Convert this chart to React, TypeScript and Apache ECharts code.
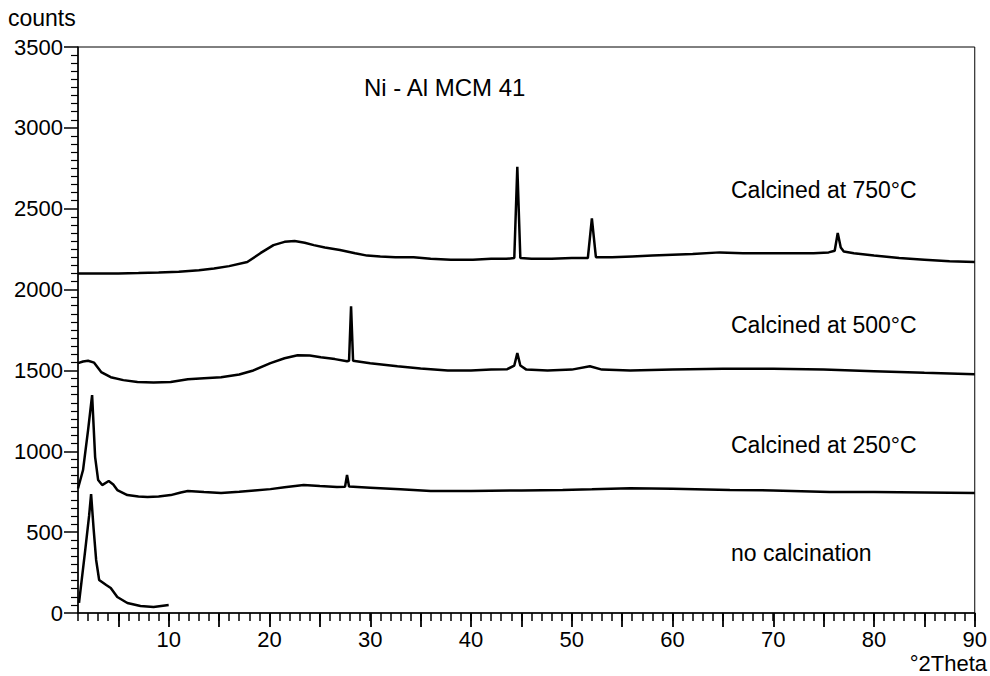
import React, { useEffect, useRef } from "react";
import * as echarts from "echarts";

// °2Theta positions and counts
const calcined750: [number, number][] = [
  [1, 2100], [3, 2100], [5, 2100], [7, 2102], [9, 2105], [11, 2110], [13, 2120], [14.5, 2130],
  [16, 2145], [17.8, 2170], [19.1, 2225], [20.4, 2275], [21.5, 2295], [22.5, 2300], [23.5, 2290],
  [24.4, 2275], [25.5, 2260], [27, 2245], [28.5, 2225], [29.7, 2210], [31, 2205], [32.5, 2200],
  [34.3, 2200], [36, 2190], [38, 2185], [40.2, 2185], [42, 2190], [43.5, 2190], [44.3, 2195],
  [44.6, 2760], [44.9, 2195], [46, 2190], [48, 2190], [50, 2195], [51.6, 2195], [52.0, 2440],
  [52.4, 2200], [54, 2200], [56, 2205], [58, 2210], [60, 2215], [62, 2220], [64.7, 2230],
  [67, 2225], [70, 2225], [72.6, 2225], [74, 2225], [75.5, 2230], [76.1, 2240], [76.4, 2350],
  [76.7, 2260], [77, 2235], [78, 2225], [80, 2210], [82.5, 2195], [85, 2185], [87.5, 2175], [90, 2170],
];

const calcined500: [number, number][] = [
  [1, 1545], [1.5, 1555], [2, 1560], [2.6, 1548], [3.3, 1490], [4.25, 1458], [5.5, 1440],
  [6.9, 1428], [8.5, 1425], [10.2, 1428], [11.9, 1446], [13.5, 1452], [15.2, 1458], [17, 1475],
  [18.4, 1500], [20.1, 1545], [21.5, 1575], [22.8, 1594], [24, 1592], [25.1, 1582], [26.5, 1570],
  [27.7, 1557], [27.9, 1560], [28.1, 1897], [28.3, 1560], [30, 1545], [32.7, 1526], [35, 1512],
  [37.7, 1500], [40, 1500], [42, 1505], [43.6, 1508], [44.3, 1530], [44.6, 1607], [44.9, 1530],
  [45.5, 1505], [47.6, 1500], [50, 1505], [51.8, 1526], [53, 1505], [55.8, 1500], [60, 1505],
  [65, 1510], [70, 1510], [75, 1505], [80, 1495], [85, 1485], [90, 1477],
];

const calcined250: [number, number][] = [
  [1, 770], [1.5, 884], [2, 1131], [2.4, 1347], [2.7, 964], [3.0, 822], [3.4, 791], [4.05, 816],
  [4.5, 795], [4.9, 760], [5.9, 729], [7, 720], [7.9, 717], [9, 720], [10.2, 729], [11.2, 745],
  [11.9, 754], [13.5, 748], [15.2, 742], [17, 750], [18.5, 758], [20.1, 766], [21.5, 778],
  [23.4, 791], [25, 785], [26.7, 779], [27.5, 780], [27.7, 853], [27.9, 782], [30, 775],
  [33, 765], [36, 754], [40, 755], [45, 758], [49.1, 760], [52, 765], [55.8, 772], [60, 768],
  [65.7, 760], [70, 758], [75.6, 748], [80, 748], [85, 745], [90, 742],
];

const noCalcination: [number, number][] = [
  [1.1, 62], [1.7, 380], [2.1, 600], [2.3, 735], [2.55, 520], [2.8, 328], [3.1, 204], [3.8, 173],
  [4.25, 155], [4.9, 99], [5.9, 62], [7.2, 43], [8.5, 37], [10, 49],
];

const xMajorTicks = [5, 10, 15, 20, 25, 30, 35, 40, 45, 50, 55, 60, 65, 70, 75, 80, 85, 90];
const xLabels = [10, 20, 30, 40, 50, 60, 70, 80, 90];

const FONT = "'Liberation Sans', Arial, sans-serif";

export default function App() {
  const ref = useRef<HTMLDivElement>(null);
  useEffect(() => {
    document.body.style.margin = "0";
    if (!ref.current) return;
    const chart = echarts.init(ref.current, undefined, { renderer: "svg" });
    const line = (name: string, data: [number, number][]) => ({
      name,
      type: "line",
      data,
      showSymbol: false,
      symbol: "none",
      lineStyle: { color: "#000", width: 2.5 },
      xAxisIndex: 0,
      yAxisIndex: 0,
    });
    const annot = (text: string, x: number, y: number, size = 23) => ({
      type: "text",
      left: x,
      top: y,
      style: { text, font: `${size}px ${FONT}`, fill: "#000" },
    });
    const gridBox = { left: 78, right: 15, top: 47, bottom: 63 };
    chart.setOption({
      animation: false,
      backgroundColor: "#fff",
      grid: [
        { ...gridBox, show: true, borderColor: "#000", borderWidth: 1, backgroundColor: "transparent" },
        { ...gridBox, show: false },
      ],
      xAxis: [
        {
          type: "value",
          gridIndex: 0,
          min: 1,
          max: 90,
          interval: 1,
          axisLine: { show: true, onZero: false, lineStyle: { color: "#000", width: 1.5 } },
          axisTick: { show: true, length: 8, lineStyle: { color: "#000", width: 1.5 } },
          axisLabel: {
            customValues: xLabels,
            margin: 15,
            fontSize: 22,
            fontFamily: FONT,
            color: "#000",
          },
          splitLine: { show: false },
        },
        {
          type: "value",
          gridIndex: 1,
          min: 1,
          max: 90,
          interval: 1,
          position: "bottom",
          axisLine: { show: false, onZero: false },
          axisTick: { show: true, length: 14, customValues: xMajorTicks, lineStyle: { color: "#000", width: 1.8 } },
          axisLabel: { show: false },
          splitLine: { show: false },
        },
      ],
      yAxis: [
        {
          type: "value",
          gridIndex: 0,
          min: 0,
          max: 3500,
          interval: 500,
          axisLine: { show: true, lineStyle: { color: "#000", width: 1.5 } },
          axisTick: { show: true, length: 14, lineStyle: { color: "#000", width: 1.5 } },
          minorTick: { show: true, splitNumber: 10, length: 7, lineStyle: { color: "#000", width: 1.2 } },
          axisLabel: { margin: 15, fontSize: 22, fontFamily: FONT, color: "#000", formatter: (v: number) => String(v) },
          splitLine: { show: false },
          minorSplitLine: { show: false },
        },
        { type: "value", gridIndex: 1, min: 0, max: 3500, show: false },
      ],
      series: [
        line("Calcined at 750°C", calcined750),
        line("Calcined at 500°C", calcined500),
        line("Calcined at 250°C", calcined250),
        line("no calcination", noCalcination),
      ],
      graphic: [
        { type: "text", left: 8, top: 6, style: { text: "counts", font: `23px ${FONT}`, fill: "#000" } },
        { type: "text", right: 3, top: 652, style: { text: "°2Theta", font: `22px ${FONT}`, fill: "#000" } },
        annot("Ni - Al MCM 41", 364, 75, 24),
        annot("Calcined at 750°C", 731, 178),
        annot("Calcined at 500°C", 731, 313),
        annot("Calcined at 250°C", 731, 433),
        annot("no calcination", 731, 541),
      ],
    });
    return () => chart.dispose();
  }, []);
  return <div ref={ref} style={{ width: 990, height: 676 }} />;
}
